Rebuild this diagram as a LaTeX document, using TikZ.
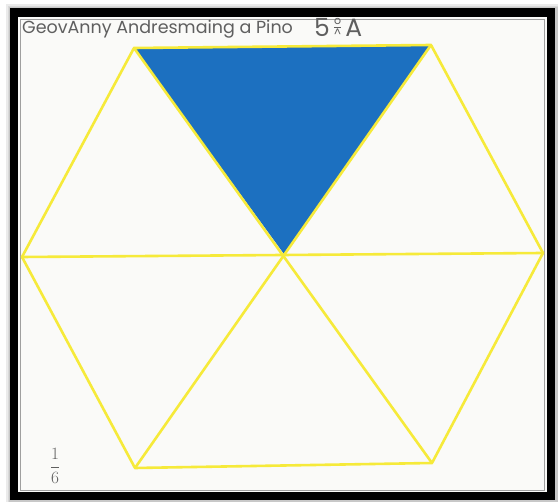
\documentclass[tikz,border=0pt]{standalone}
\usepackage{amsmath}
\usepackage{fontspec}
\setmainfont{Poppins}
\usepackage{xcolor}
\usetikzlibrary{positioning, calc}
\definecolor{crayonyellow}{RGB}{246,234,58}
\definecolor{crayonblue}{RGB}{28,112,192}
\definecolor{pencil}{RGB}{95,95,95}
\definecolor{paper}{RGB}{250,250,248}
\tikzstyle{hexline} = [draw=crayonyellow, line width=2.6pt, line join=round, line cap=round]
\tikzstyle{frame}   = [draw=black, line width=8.5pt]
\tikzstyle{shadow}  = [draw=black, opacity=0.08]
\tikzstyle{script}  = [inner sep=0pt, text=pencil, font=\fontsize{17.5}{18}\selectfont]
\newcommand{\gradesign}{\shortstack[c]{\fontsize{11}{9}\selectfont o\\[-1pt]
  \rule{7pt}{0.6pt}\\[-1pt]\fontsize{11}{9}\selectfont\^{}}}

\begin{document}
\begin{tikzpicture}[x=1pt, y=-1pt]

  \useasboundingbox (0,0) rectangle (558,502);

  % shadow and frame
  \foreach \w in {12,15,18}
    \draw[shadow, line width=\w pt] (15,13.5) rectangle (552,497);
  \fill[paper] (18,17) rectangle (547,492);
  \draw[pencil!60, line width=0.6pt] (20,19) rectangle (544,490);
  \draw[frame] (14,12.5) rectangle (551,496);

  % hexagon corners
  \coordinate (tl) at (134,48);
  \coordinate (tr) at (431,45);
  \coordinate (r)  at (543,253);
  \coordinate (br) at (432,463);
  \coordinate (bl) at (135,468);
  \coordinate (l)  at (22,257);
  \coordinate (c)  at (284,254);

  % coloured sixth
  \fill[crayonblue] (tl) -- (tr) -- (c) -- cycle;

  \draw[hexline] (tl) -- (tr) -- (r) -- (br) -- (bl) -- (l) -- cycle;
  \draw[hexline] (l) -- (r);
  \draw[hexline] (tl) -- (br);
  \draw[hexline] (tr) -- (bl);

  % pencil notes
  \node[script, anchor=base west] (name) at (22,34)
      {GeovAnny Andresmaing a Pino};
  \node[script, font=\fontsize{25}{25}\selectfont, anchor=base west]
      (grade) at (314,37) {5\,\gradesign\,A};
  \node[script, font=\fontsize{16}{16}\selectfont] (frac) at (55,466)
      {$\dfrac{1}{6}$};

\end{tikzpicture}
\end{document}
